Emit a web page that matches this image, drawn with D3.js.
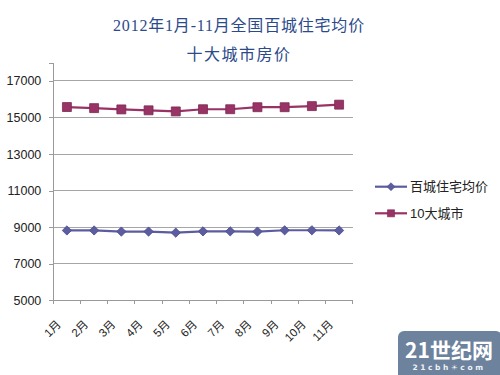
<!DOCTYPE html>
<html>
<head>
<meta charset="utf-8">
<script src="https://cdn.jsdelivr.net/npm/d3@7"></script>
<style>
html,body{margin:0;padding:0;background:#fff;}
svg{display:block;}
</style>
</head>
<body>
<svg id="chart" width="500" height="375"></svg>
<script>
const titleLines = ["2012年1月-11月全国百城住宅均价", "十大城市房价"];
const months = ["1月","2月","3月","4月","5月","6月","7月","8月","9月","10月","11月"];
const seriesNames = ["百城住宅均价", "10大城市"];
const hundredCities = [8820, 8820, 8760, 8760, 8700, 8770, 8770, 8760, 8830, 8830, 8820];
const tenCities = [15570, 15510, 15440, 15390, 15330, 15450, 15450, 15560, 15560, 15620, 15700];
const yTicks = [5000, 7000, 9000, 11000, 13000, 15000, 17000];
const yDomain = [5000, 18000];

const svg = d3.select("#chart");
const plot = {left: 53.3, right: 352.7, top: 62.6, bottom: 300.3};

const x = d3.scaleBand().domain(months).range([plot.left, plot.right]).padding(0);
const y = d3.scaleLinear().domain(yDomain).range([plot.bottom, plot.top]);
const cx = d => x(d) + x.bandwidth() / 2;

// title
const title = svg.append("g").attr("font-family", "'Liberation Serif','Noto Sans CJK SC',serif")
  .attr("fill", "#2c4a8a").attr("font-size", 16).attr("text-anchor", "middle");
title.append("text").attr("x", 239).attr("y", 31).attr("letter-spacing", 0.8).text(titleLines[0]);
title.append("text").attr("x", 239).attr("y", 60).attr("letter-spacing", 1.5).text(titleLines[1]);

// gridlines
svg.append("g").selectAll("line").data(yTicks.filter(t => t > yDomain[0])).join("line")
  .attr("x1", plot.left).attr("x2", plot.right)
  .attr("y1", d => y(d)).attr("y2", d => y(d))
  .attr("stroke", "#a6a6a6").attr("stroke-width", 1).attr("shape-rendering", "crispEdges");

// y axis
const yAxis = svg.append("g").attr("transform", `translate(${plot.left},0)`)
  .call(d3.axisLeft(y).tickValues(yTicks).tickSize(4).tickPadding(8).tickFormat(d3.format("d")));
yAxis.select(".domain").attr("stroke", "#9a9a9a").attr("shape-rendering", "crispEdges");
yAxis.selectAll(".tick line").attr("stroke", "#9a9a9a").attr("shape-rendering", "crispEdges");
yAxis.selectAll("text").attr("font-family", "'Liberation Sans',Arial,sans-serif")
  .attr("font-size", 12.5).attr("fill", "#222");

// x axis
const xAxis = svg.append("g").attr("transform", `translate(0,${plot.bottom})`)
  .call(d3.axisBottom(x).tickSize(0).tickFormat(""));
xAxis.select(".domain").attr("stroke", "#9a9a9a").attr("shape-rendering", "crispEdges");
xAxis.selectAll(".tick").remove();
const bounds = months.map(m => x(m)).concat([plot.right]);
svg.append("g").selectAll("line").data(bounds).join("line")
  .attr("x1", d => d).attr("x2", d => d)
  .attr("y1", plot.bottom).attr("y2", plot.bottom + 4)
  .attr("stroke", "#9a9a9a").attr("shape-rendering", "crispEdges");
svg.append("g").selectAll("text").data(months).join("text")
  .attr("transform", d => `translate(${cx(d) - 8},${plot.bottom + 22}) rotate(-45)`)
  .attr("text-anchor", "end").attr("dominant-baseline", "central")
  .attr("font-family", "'Liberation Sans','Noto Sans CJK SC',sans-serif")
  .attr("font-size", 11.5).attr("fill", "#222")
  .text(d => d);

// series
const blue = "#5c5ca0", blueDark = "#4a4a8c";
const red = "#993366", redDark = "#7a2a52";
const line = d3.line().x((d, i) => cx(months[i])).y(d => y(d));

svg.append("path").datum(hundredCities).attr("d", line)
  .attr("fill", "none").attr("stroke", blue).attr("stroke-width", 2.2);
svg.append("path").datum(tenCities).attr("d", line)
  .attr("fill", "none").attr("stroke", red).attr("stroke-width", 2.2);

const diamond = d3.symbol().type(d3.symbolDiamond2).size(55);
const square = d3.symbol().type(d3.symbolSquare).size(80);

svg.append("g").selectAll("path").data(hundredCities).join("path")
  .attr("transform", (d, i) => `translate(${cx(months[i])},${y(d)})`)
  .attr("d", diamond).attr("fill", blue).attr("stroke", blueDark).attr("stroke-width", 0.8);
svg.append("g").selectAll("path").data(tenCities).join("path")
  .attr("transform", (d, i) => `translate(${cx(months[i])},${y(d)})`)
  .attr("d", square).attr("fill", red).attr("stroke", redDark).attr("stroke-width", 0.8);

// legend
const legend = svg.append("g");
const legendItems = [
  {name: seriesNames[0], color: blue, dark: blueDark, sym: d3.symbol().type(d3.symbolDiamond2).size(40), y: 186.7},
  {name: seriesNames[1], color: red, dark: redDark, sym: d3.symbol().type(d3.symbolSquare).size(50), y: 213.3}
];
legendItems.forEach(it => {
  legend.append("line").attr("x1", 375).attr("x2", 407).attr("y1", it.y).attr("y2", it.y)
    .attr("stroke", it.color).attr("stroke-width", 2.2);
  legend.append("path").attr("transform", `translate(391,${it.y})`).attr("d", it.sym)
    .attr("fill", it.color).attr("stroke", it.dark).attr("stroke-width", 0.6);
  legend.append("text").attr("x", 410).attr("y", it.y).attr("dominant-baseline", "central")
    .attr("font-family", "'Liberation Sans','Noto Sans CJK SC',sans-serif")
    .attr("font-size", 13).attr("fill", "#222").text(it.name);
});

// watermark
const wm = svg.append("g");
wm.append("rect").attr("x", 398).attr("y", 331).attr("width", 104).attr("height", 50).attr("rx", 6)
  .attr("fill", "#6d829d");
wm.append("text").attr("x", 449).attr("y", 358).attr("text-anchor", "middle")
  .attr("font-family", "'Noto Sans CJK SC',sans-serif").attr("font-weight", "bold")
  .attr("font-size", 21).attr("fill", "#ffffff").text("21世纪网");
wm.append("text").attr("x", 449).attr("y", 370).attr("text-anchor", "middle")
  .attr("font-family", "'DejaVu Sans',sans-serif").attr("font-weight", "bold")
  .attr("font-size", 7.5).attr("letter-spacing", 2.6).attr("fill", "#eef2f6").text("21cbh☀com");
</script>
</body>
</html>
